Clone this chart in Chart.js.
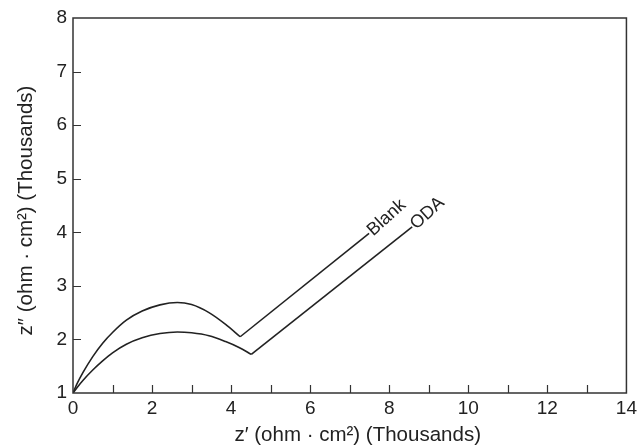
<!DOCTYPE html>
<html><head><meta charset="utf-8">
<script src="https://cdn.jsdelivr.net/npm/chart.js@4.4.0/dist/chart.umd.min.js"></script>
<style>html,body{margin:0;padding:0;background:#fff;}#wrap{width:641px;height:445px;}</style>
</head><body><div id="wrap"><canvas id="c" width="641" height="445"></canvas></div>
<script>
// Blank: depressed arc then straight diffusion tail
const blankArcX = [0, 0.1, 0.25, 0.5, 0.75, 1.0, 1.35, 1.75, 2.2, 2.64, 3.0, 3.44, 3.86, 4.23];
const blankArcY = [1.0, 1.17, 1.38, 1.68, 1.93, 2.13, 2.36, 2.53, 2.645, 2.69, 2.65, 2.50, 2.28, 2.05];
const blankTailX = [4.23, 7.49];
const blankTailY = [2.05, 3.98];
// ODA
const odaArcX = [0, 0.1, 0.25, 0.5, 0.75, 1.0, 1.35, 1.75, 2.2, 2.64, 3.0, 3.44, 3.86, 4.2, 4.51];
const odaArcY = [1.0, 1.1, 1.235, 1.43, 1.60, 1.75, 1.91, 2.03, 2.11, 2.14, 2.125, 2.07, 1.96, 1.85, 1.72];
const odaTailX = [4.51, 8.58];
const odaTailY = [1.72, 4.1];

const seriesNames = ['Blank', 'ODA'];
const xTickValues = [0, 2, 4, 6, 8, 10, 12, 14];
const yTickValues = [1, 2, 3, 4, 5, 6, 7, 8];
const xTitle = 'z\u2032 (ohm \u00b7 cm\u00b2) (Thousands)';
const yTitle = 'z\u2033 (ohm \u00b7 cm\u00b2) (Thousands)';

const INK = '#222';
const FONT = '"Liberation Sans", Arial, Helvetica, sans-serif';

function pts(xs, ys) { return xs.map((x, i) => ({x: x, y: ys[i]})); }

const lineStyle = {showLine: true, borderColor: INK, borderWidth: 1.6, pointRadius: 0, fill: false};

const framePlugin = {
  id: 'frame',
  afterDraw(chart) {
    const {ctx, chartArea: a, scales: {x, y}} = chart;
    ctx.save();
    ctx.strokeStyle = '#333';
    ctx.lineWidth = 1.5;
    ctx.strokeRect(a.left, a.top, a.right - a.left, a.bottom - a.top);
    ctx.lineWidth = 1.2;
    ctx.beginPath();
    for (let v = x.min + 1; v < x.max; v++) {
      const px = Math.round(x.getPixelForValue(v)) + 0.5;
      ctx.moveTo(px, a.bottom); ctx.lineTo(px, a.bottom - 8);
    }
    for (let v = y.min + 1; v < y.max; v++) {
      const py = Math.round(y.getPixelForValue(v)) + 0.5;
      ctx.moveTo(a.left, py); ctx.lineTo(a.left + 8, py);
    }
    ctx.stroke();
    // axis titles
    ctx.fillStyle = INK;
    ctx.font = '20.5px ' + FONT;
    ctx.textAlign = 'center';
    ctx.textBaseline = 'middle';
    ctx.fillText(xTitle, (a.left + a.right) / 2 + 8, 435);
    ctx.save();
    ctx.translate(26, (a.top + a.bottom) / 2 + 5);
    ctx.rotate(-Math.PI / 2);
    ctx.fillText(yTitle, 0, 0);
    ctx.restore();
    // series labels along tails
    const tails = [[blankTailX, blankTailY], [odaTailX, odaTailY]];
    ctx.font = '18px ' + FONT;
    ctx.textBaseline = 'alphabetic';
    ctx.textAlign = 'left';
    tails.forEach((t, i) => {
      const x0 = x.getPixelForValue(t[0][0]), y0 = y.getPixelForValue(t[1][0]);
      const x1 = x.getPixelForValue(t[0][1]), y1 = y.getPixelForValue(t[1][1]);
      const ang = Math.atan2(y1 - y0, x1 - x0) - 0.06;
      ctx.save();
      ctx.translate(x1, y1);
      ctx.rotate(ang);
      ctx.fillText(seriesNames[i], 1, 5);
      ctx.restore();
    });
    ctx.restore();
  }
};

new Chart(document.getElementById('c'), {
  type: 'scatter',
  data: {
    datasets: [
      Object.assign({label: seriesNames[0], data: pts(blankArcX, blankArcY), cubicInterpolationMode: 'monotone'}, lineStyle),
      Object.assign({label: seriesNames[0] + ' tail', data: pts(blankTailX, blankTailY), tension: 0}, lineStyle),
      Object.assign({label: seriesNames[1], data: pts(odaArcX, odaArcY), cubicInterpolationMode: 'monotone'}, lineStyle),
      Object.assign({label: seriesNames[1] + ' tail', data: pts(odaTailX, odaTailY), tension: 0}, lineStyle)
    ]
  },
  options: {
    responsive: false,
    animation: false,
    devicePixelRatio: 1,
    layout: {padding: {top: 18, right: 10, left: 0, bottom: 0}},
    plugins: {legend: {display: false}, tooltip: {enabled: false}},
    scales: {
      x: {
        type: 'linear', min: 0, max: 14,
        grid: {display: false, drawTicks: false},
        border: {display: false},
        ticks: {
          stepSize: 1, autoSkip: false, maxRotation: 0, padding: 4,
          color: INK, font: {size: 19, family: FONT},
          callback: v => xTickValues.includes(v) ? String(v) : ''
        },
        afterFit: s => { s.height = 52; }
      },
      y: {
        type: 'linear', min: 1, max: 8,
        grid: {display: false, drawTicks: false},
        border: {display: false},
        ticks: {
          stepSize: 1, autoSkip: false, padding: 6,
          color: INK, font: {size: 19, family: FONT},
          callback: v => yTickValues.includes(v) ? String(v) : ''
        },
        afterFit: s => { s.width = 73; }
      }
    }
  },
  plugins: [framePlugin]
});
</script>
</body></html>
